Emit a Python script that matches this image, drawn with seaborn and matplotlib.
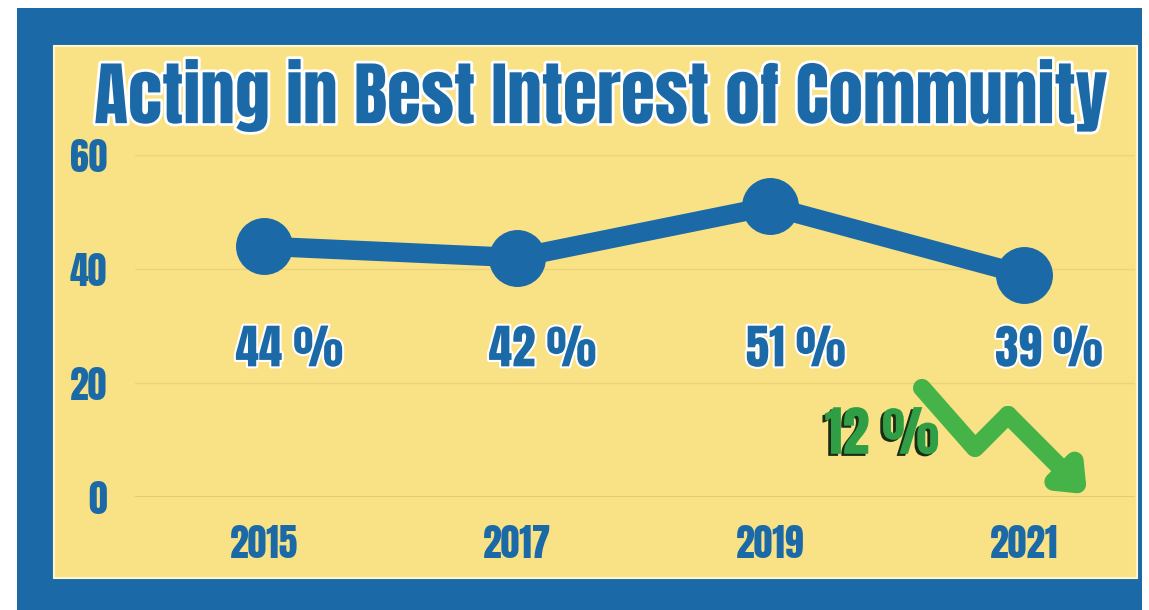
import pandas as pd
import seaborn as sns
import matplotlib.pyplot as plt
import matplotlib.patheffects as pe
from matplotlib.patches import Rectangle

# values
years = ['2015', '2017', '2019', '2021']
share = [44, 42, 51, 39]
y_ticks = [0, 20, 40, 60]

blue = '#1b6aa7'
yellow = '#f9e285'
green = '#45b348'
font = ['Anton', 'DejaVu Sans']

df = pd.DataFrame({'pos': range(len(years)), 'share': share})

sns.set_theme(style='white')
plt.rcParams['font.family'] = font

fig = plt.figure(figsize=(11.49, 6.10), dpi=100)
fig.patch.set_facecolor('white')

# blue frame and yellow panel
fig.patches.append(Rectangle((0.0148, 0.0), 0.979, 0.987, transform=fig.transFigure,
                             facecolor=blue, edgecolor='none', zorder=-3))
fig.patches.append(Rectangle((0.047, 0.0525), 0.9426, 0.872, transform=fig.transFigure,
                             facecolor=yellow, edgecolor='#fff6d0', linewidth=1.5, zorder=-2))

ax = fig.add_axes([0.1175, 0.1852, 0.8703, 0.5607])
ax.set_facecolor('none')

sns.lineplot(data=df, x='pos', y='share', ax=ax, color=blue, linewidth=14,
             marker='o', markersize=41, markeredgewidth=0, solid_capstyle='round')

ax.set_xlim(-0.51, 3.44)
ax.set_ylim(0, 60)
ax.set_xticks(range(len(years)))
ax.set_xticklabels(years)
ax.set_yticks(y_ticks)
ax.tick_params(axis='x', labelsize=27, labelcolor=blue, length=0, pad=20)
ax.tick_params(axis='y', labelsize=27, labelcolor=blue, length=0, pad=20)
ax.set_xlabel('')
ax.set_ylabel('')
ax.grid(axis='y', color='#ecd37a', linewidth=1)
ax.axhline(0, color='#e0c76e', linewidth=1.2, zorder=0)
sns.despine(ax=ax, left=True, bottom=True)

# value labels
outline = [pe.withStroke(linewidth=3, foreground='white')]
for i, v in enumerate(share):
    ax.text(i + 0.1, 26, f'{v} %', ha='center', va='center', fontsize=34,
            color=blue, path_effects=outline)

# drop from peak to latest
drop = share[2] - share[3]
ax.text(2.44, 11, f'{drop} %', ha='center', va='center', fontsize=39,
        color='#2f9e44',
        path_effects=[pe.withSimplePatchShadow(offset=(-2, -1.5), shadow_rgbFace='#1c2a16', alpha=1)])

# zigzag down arrow
ax.plot([0.787, 0.840, 0.873], [0.319, 0.143, 0.240], transform=ax.transAxes,
        color=green, linewidth=13, solid_capstyle='round', solid_joinstyle='round')
ax.annotate('', xy=(0.952, 0.008), xytext=(0.873, 0.240), xycoords='axes fraction',
            arrowprops=dict(arrowstyle='-|>,head_length=1.1,head_width=0.9',
                            color=green, linewidth=13, shrinkA=0, shrinkB=0))

fig.text(0.523, 0.844, 'Acting in Best Interest of Community', ha='center', va='center',
         fontsize=50, color=blue,
         path_effects=[pe.withStroke(linewidth=4, foreground='white')])

fig.savefig('out.png', dpi=100)
